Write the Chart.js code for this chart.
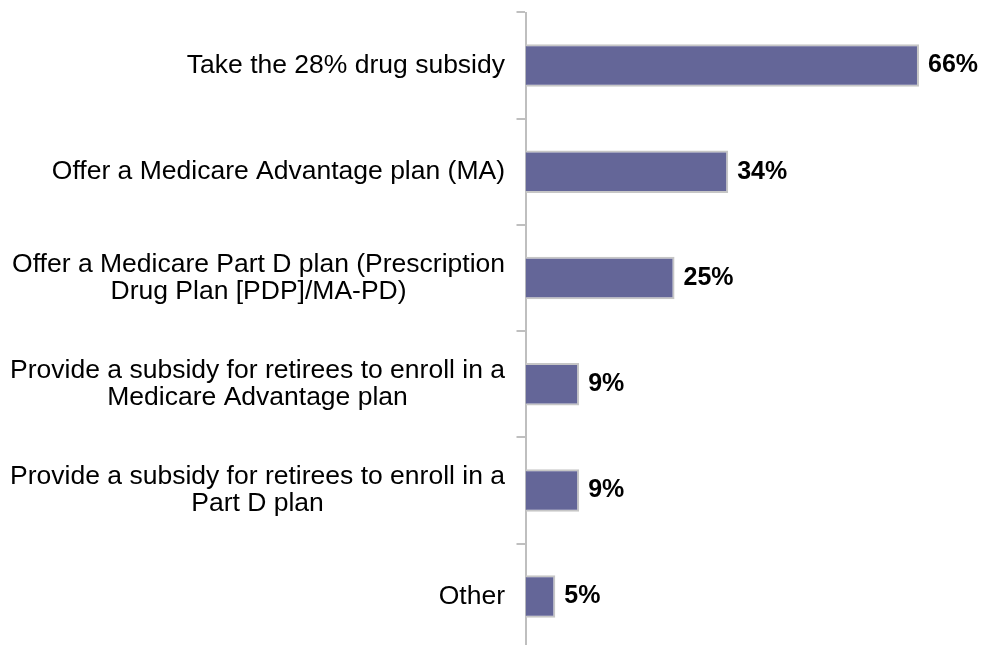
<!DOCTYPE html>
<html>
<head>
<meta charset="utf-8">
<script src="https://cdn.jsdelivr.net/npm/chart.js@4"></script>
<style>
  html, body { margin: 0; padding: 0; background: #fff; overflow: hidden; }
  #wrap { width: 982px; height: 652px; position: relative; }
</style>
</head>
<body>
<div id="wrap"><canvas id="myChart"></canvas></div>
<script>
// chart data
const categories = [
  ['Take the 28% drug subsidy'],
  ['Offer a Medicare Advantage plan (MA)'],
  ['Offer a Medicare Part D plan (Prescription', 'Drug Plan [PDP]/MA-PD)'],
  ['Provide a subsidy for retirees to enroll in a', 'Medicare Advantage plan'],
  ['Provide a subsidy for retirees to enroll in a', 'Part D plan'],
  ['Other']
];
const shares = [66, 34, 25, 9, 9, 5];

const FONT = '"Liberation Sans", Arial, sans-serif';

// category labels: block right aligned, lines centered on each other
const labelPlugin = {
  id: 'labels',
  afterDraw(chart) {
    const ctx = chart.ctx;
    const yScale = chart.scales.y;
    const rightEdge = chart.chartArea.left - 20.5;
    ctx.save();
    ctx.fillStyle = '#000';
    ctx.textBaseline = 'middle';
    ctx.font = '26.5px ' + FONT;
    ctx.textAlign = 'center';
    categories.forEach((lines, i) => {
      const y = yScale.getPixelForTick(i);
      let widest = 0;
      lines.forEach(l => { widest = Math.max(widest, ctx.measureText(l).width); });
      const cx = rightEdge - widest / 2;
      const lh = 27.5;
      lines.forEach((l, j) => {
        ctx.fillText(l, cx, y + (j - (lines.length - 1) / 2) * lh);
      });
    });

    // value labels
    ctx.font = 'bold 25px ' + FONT;
    ctx.textAlign = 'left';
    const meta = chart.getDatasetMeta(0);
    meta.data.forEach((bar, i) => {
      ctx.fillText(shares[i] + '%', bar.x + 9, bar.y);
    });
    ctx.restore();
  }
};

const ctx = document.getElementById('myChart');

new Chart(ctx, {
  type: 'bar',
  data: {
    labels: categories,
    datasets: [{
      data: shares,
      backgroundColor: '#646698',
      borderColor: '#c6c6c6',
      borderWidth: 2,
      barPercentage: 0.4,
      categoryPercentage: 1
    }]
  },
  options: {
    indexAxis: 'y',
    responsive: true,
    maintainAspectRatio: false,
    animation: false,
    layout: { padding: { left: 516.5, right: 3.4, top: 12.5, bottom: 2.3 } },
    plugins: {
      legend: { display: false },
      tooltip: { enabled: false }
    },
    scales: {
      x: { display: false, min: 0, max: 76 },
      y: {
        ticks: { display: false },
        grid: { drawOnChartArea: false, color: '#bfbfbf', lineWidth: 2, tickLength: 9, offset: true },
        border: { color: '#bfbfbf', width: 2 }
      }
    }
  },
  plugins: [labelPlugin]
});
</script>
</body>
</html>
